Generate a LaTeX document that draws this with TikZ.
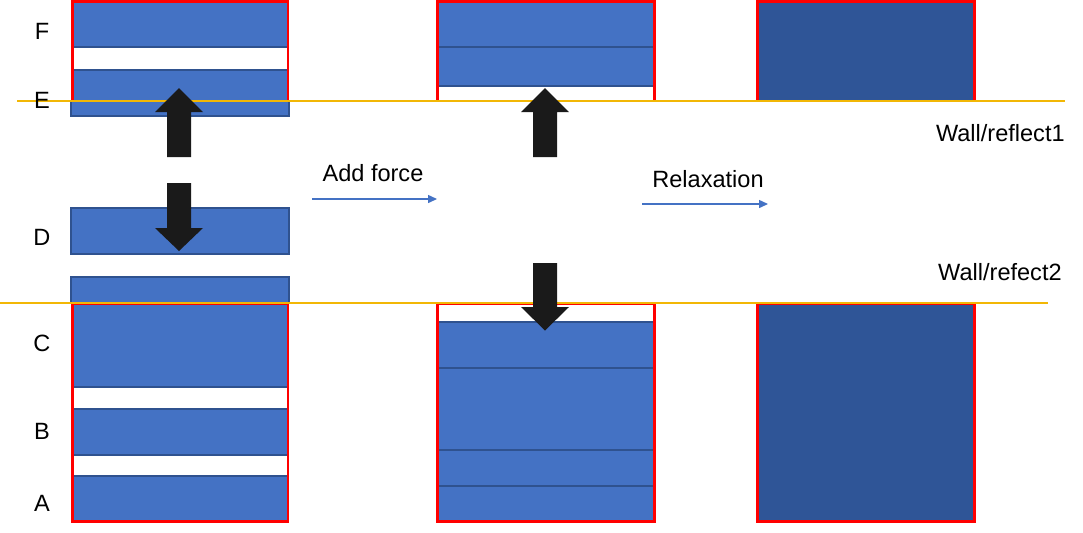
\documentclass[tikz,border=0pt]{standalone}
\usepackage{fontspec}
\setmainfont{Liberation Sans}
\usetikzlibrary{positioning, arrows.meta}
\definecolor{barblue}{HTML}{4472C4}
\definecolor{baredge}{HTML}{2F528F}
\definecolor{mergedblue}{HTML}{2F5597}
\definecolor{wallyellow}{HTML}{F2B705}
\definecolor{forceblack}{HTML}{1A1A1A}

% block arrow: centre x, shaft end y, head base y, tip y
\newcommand{\pusharrow}[4]{%
  \fill[forceblack] (#1-12,#2) -- (#1+12,#2) -- (#1+12,#3) -- (#1+24,#3)
    -- (#1,#4) -- (#1-24,#3) -- (#1-12,#3) -- cycle;}

\begin{document}
\begin{tikzpicture}[x=0.02cm, y=-0.02cm,
  bar/.style={draw=baredge, line width=0.6pt, fill=barblue},
  merged/.style={fill=mergedblue},
  frame/.style={draw=red, line width=1.6pt},
  wall/.style={draw=wallyellow, line width=0.6pt},
  lbl/.style={font=\fontsize{13.4}{16}\selectfont, inner sep=0pt},
  stepline/.style={draw=barblue, line width=0.6pt, -{Triangle[length=5pt,width=4.5pt]}}]

  \useasboundingbox (0,0) rectangle (1083,532);

  % left column: layers before loading
  \draw[bar] (73,2) rectangle (287.5,47);
  \draw[bar] (73,70) rectangle (287.5,101);
  \draw[bar] (71,101) rectangle (289,116);
  \draw[bar] (71,208) rectangle (289,254);
  \draw[bar] (71,277) rectangle (289,303);
  \draw[bar] (73,303) rectangle (287.5,387);
  \draw[bar] (73,409) rectangle (287.5,455);
  \draw[bar] (73,476) rectangle (287.5,521);
  \draw[frame] (72.3,1.4) rectangle (288,101);
  \draw[frame] (72.3,303.3) rectangle (288,521.7);

  % middle column: after force
  \draw[bar] (438.5,2) rectangle (653.5,47);
  \draw[bar] (438.5,47) rectangle (653.5,86);
  \draw[bar] (438.5,322) rectangle (653.5,368);
  \draw[bar] (438.5,368) rectangle (653.5,450);
  \draw[bar] (438.5,450) rectangle (653.5,486);
  \draw[bar] (438.5,486) rectangle (653.5,521);
  \draw[frame] (437.7,1.4) rectangle (654.2,101);
  \draw[frame] (437.7,303.3) rectangle (654.2,521.7);

  % right column: after relaxation
  \fill[merged] (757.7,1.4) rectangle (974.5,101);
  \fill[merged] (757.7,303.3) rectangle (974.5,521.7);
  \draw[frame] (757.7,1.4) rectangle (974.5,101);
  \draw[frame] (757.7,303.3) rectangle (974.5,521.7);

  % walls
  \coordinate (w1a) at (17,101);
  \coordinate (w1b) at (1065,101);
  \coordinate (w2a) at (0,303);
  \coordinate (w2b) at (1048,303);
  \draw[wall] (w1a) -- (w1b);
  \draw[wall] (w2a) -- (w2b);

  % forces
  \pusharrow{179}{157}{112}{88}
  \pusharrow{179}{183}{228}{251}
  \pusharrow{545}{157}{112}{88}
  \pusharrow{545}{263}{307}{330.5}

  % layer labels
  \node[lbl] (lF) at (42,31) {F};
  \node[lbl] (lE) at (42,100) {E};
  \node[lbl] (lD) at (42,237) {D};
  \node[lbl] (lC) at (42,343) {C};
  \node[lbl] (lB) at (42,431) {B};
  \node[lbl] (lA) at (42,503) {A};

  % steps
  \coordinate (s1a) at (312,199);
  \coordinate (s1b) at (437,199);
  \coordinate (s2a) at (642,204);
  \coordinate (s2b) at (768,204);
  \draw[stepline] (s1a) -- (s1b);
  \draw[stepline] (s2a) -- (s2b);
  \node[lbl] (addforce) at (373,173) {Add force};
  \node[lbl] (relax) at (708,179) {Relaxation};

  \node[lbl, anchor=east] (wall1) at (1065,133) {Wall/reflect1};
  \node[lbl, anchor=east] (wall2) at (1062,272) {Wall/refect2};
\end{tikzpicture}
\end{document}
